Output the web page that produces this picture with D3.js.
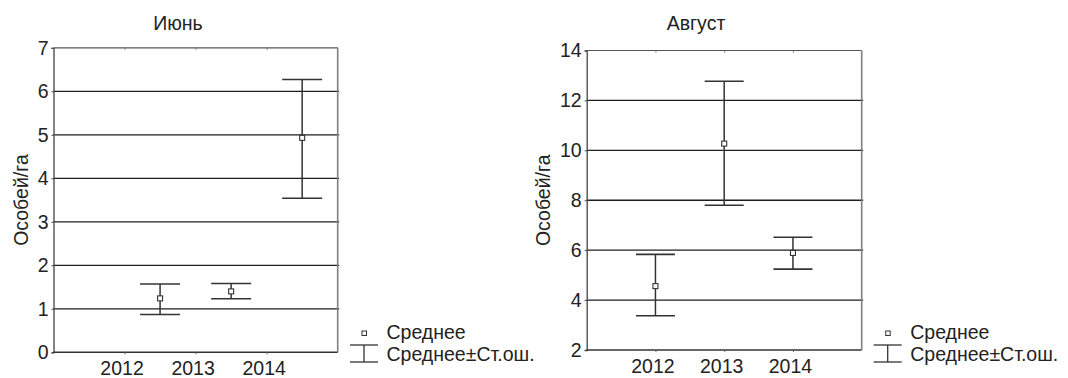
<!DOCTYPE html>
<html>
<head>
<meta charset="utf-8">
<script src="https://cdn.jsdelivr.net/npm/d3@7"></script>
<style>
  html, body { margin: 0; padding: 0; background: #fff; }
  svg { display: block; font-family: "Liberation Sans", Arial, sans-serif; }
</style>
</head>
<body>
<svg id="chart" width="1068" height="378"></svg>
<script>
// Year labels on the x axis
const years = ["2012", "2013", "2014"];

// June: mean density and mean ± standard error
const juneMean  = [1.24, 1.40, 4.93];
const juneUpper = [1.57, 1.58, 6.27];
const juneLower = [0.87, 1.23, 3.54];
const juneTicks = [0, 1, 2, 3, 4, 5, 6, 7];

// August: mean density and mean ± standard error
const augMean  = [4.56, 10.27, 5.89];
const augUpper = [5.83, 12.77, 6.52];
const augLower = [3.37, 7.80, 5.24];
const augTicks = [2, 4, 6, 8, 10, 12, 14];

const yLabel = "Особей/га";
const legendMean = "Среднее";
const legendErr = "Среднее±Ст.ош.";

const svg = d3.select("#chart");
const FS = 19.5;
const ink = "#222";

function panel(cfg) {
  const g = svg.append("g");
  const x = d3.scaleLinear().domain([0, 4]).range([cfg.left, cfg.right]);
  const y = d3.scaleLinear().domain(cfg.yDomain).range([cfg.bottom, cfg.top]);

  // horizontal grid lines
  g.selectAll("line.grid")
    .data(cfg.ticks.filter(t => t > cfg.yDomain[0] && t < cfg.yDomain[1]))
    .join("line")
    .attr("x1", cfg.left).attr("x2", cfg.right + 1.5)
    .attr("y1", d => y(d)).attr("y2", d => y(d))
    .attr("stroke", "#1e1e1e").attr("stroke-width", 1.3);

  // left axis with tick labels
  const yAxis = g.append("g")
    .attr("transform", `translate(${cfg.left},0)`)
    .call(d3.axisLeft(y).tickValues(cfg.ticks).tickSize(2).tickPadding(3).tickFormat(d3.format("d")));
  yAxis.select(".domain").attr("stroke", "#444").attr("stroke-width", 1.3);
  yAxis.selectAll(".tick line").attr("stroke", "#444");
  yAxis.selectAll("text").attr("font-size", FS).attr("fill", ink).attr("font-family", "Liberation Sans, Arial, sans-serif");

  // bottom axis with year labels
  const xAxis = g.append("g")
    .attr("transform", `translate(0,${cfg.bottom})`)
    .call(d3.axisBottom(x).tickValues([1, 2, 3]).tickSize(2).tickPadding(7).tickFormat(d => years[d - 1]));
  xAxis.select(".domain").attr("d", `M${cfg.left},0H${cfg.right}`).attr("stroke", "#333").attr("stroke-width", 1.4);
  xAxis.selectAll(".tick line").attr("stroke", "#666");
  xAxis.selectAll("text").attr("font-size", FS).attr("fill", ink).attr("font-family", "Liberation Sans, Arial, sans-serif")
    .attr("dx", -3);

  // top and right frame
  const topAxis = g.append("g")
    .attr("transform", `translate(0,${cfg.top})`)
    .call(d3.axisBottom(x).tickValues([1, 2, 3]).tickSize(2).tickFormat(""));
  topAxis.select(".domain").attr("d", `M${cfg.left},0H${cfg.right}`).attr("stroke", "#555").attr("stroke-width", 1.2);
  topAxis.selectAll(".tick line").attr("stroke", "#777");
  g.append("line")
    .attr("x1", cfg.right).attr("x2", cfg.right)
    .attr("y1", cfg.top).attr("y2", cfg.bottom)
    .attr("stroke", "#808080").attr("stroke-width", 1.6);

  // error bars
  const rows = cfg.mean.map((m, i) => ({ i, m, hi: cfg.upper[i], lo: cfg.lower[i] }));
  const px = d => x(d.i + 1 + cfg.shift);
  const bars = g.selectAll("g.bar").data(rows).join("g").attr("class", "bar");
  bars.append("line")
    .attr("x1", px).attr("x2", px)
    .attr("y1", d => y(d.hi)).attr("y2", d => y(d.lo))
    .attr("stroke", "#333").attr("stroke-width", 1.5);
  ["hi", "lo"].forEach(k => {
    bars.append("line")
      .attr("x1", d => px(d) - cfg.cap).attr("x2", d => px(d) + cfg.cap)
      .attr("y1", d => y(d[k])).attr("y2", d => y(d[k]))
      .attr("stroke", "#333").attr("stroke-width", 1.6);
  });
  bars.append("rect")
    .attr("x", d => px(d) - 2.5).attr("y", d => y(d.m) - 2.5)
    .attr("width", 5).attr("height", 5)
    .attr("fill", "#fff").attr("stroke", "#333").attr("stroke-width", 1.1);

  // title
  g.append("text")
    .attr("x", cfg.titleX).attr("y", 30)
    .attr("text-anchor", "middle").attr("font-size", FS).attr("fill", ink)
    .text(cfg.title);

  // y-axis title
  g.append("text")
    .attr("transform", `translate(${cfg.yLabelX},${(cfg.top + cfg.bottom) / 2}) rotate(-90)`)
    .attr("text-anchor", "middle").attr("font-size", FS).attr("fill", ink)
    .text(yLabel);

  // legend
  const lg = g.append("g").attr("transform", `translate(${cfg.legendX},0)`);
  lg.append("rect").attr("x", -2).attr("y", 331).attr("width", 4.5).attr("height", 4.5)
    .attr("fill", "#fff").attr("stroke", "#333").attr("stroke-width", 1);
  lg.append("line").attr("x1", -14).attr("x2", 14).attr("y1", 345).attr("y2", 345)
    .attr("stroke", "#333").attr("stroke-width", 1.3);
  lg.append("line").attr("x1", -14).attr("x2", 14).attr("y1", 362).attr("y2", 362)
    .attr("stroke", "#333").attr("stroke-width", 1.3);
  lg.append("line").attr("x1", 0).attr("x2", 0).attr("y1", 345).attr("y2", 362)
    .attr("stroke", "#333").attr("stroke-width", 1.3);
  lg.append("text").attr("x", 22.5).attr("y", 339).attr("font-size", FS).attr("fill", ink).text(legendMean);
  lg.append("text").attr("x", 22.5).attr("y", 360.5).attr("font-size", FS).attr("fill", ink).text(legendErr);
}

panel({
  title: "Июнь", titleX: 178, yLabelX: 28,
  left: 53.5, right: 337.7, top: 47.8, bottom: 352.3,
  yDomain: [0, 7], ticks: juneTicks,
  mean: juneMean, upper: juneUpper, lower: juneLower,
  shift: 0.5, cap: 20, legendX: 364
});

panel({
  title: "Август", titleX: 696, yLabelX: 550,
  left: 586.7, right: 861.7, top: 50.5, bottom: 350,
  yDomain: [2, 14], ticks: augTicks,
  mean: augMean, upper: augUpper, lower: augLower,
  shift: 0, cap: 19.5, legendX: 887.7
});
</script>
</body>
</html>
